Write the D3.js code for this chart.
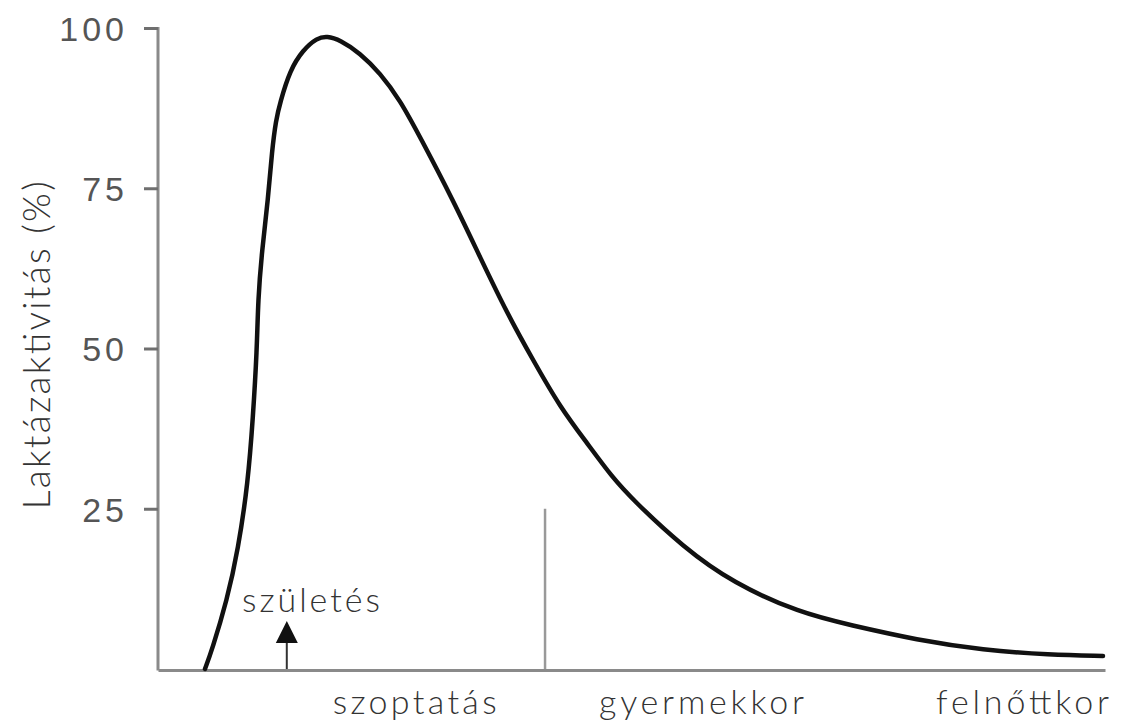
<!DOCTYPE html>
<html>
<head>
<meta charset="utf-8">
<script src="https://cdn.jsdelivr.net/npm/d3@7"></script>
<style>
  html, body { margin: 0; padding: 0; background: #fff; }
  svg { display: block; font-family: Lato, "DejaVu Sans", sans-serif; }
</style>
</head>
<body>
<div id="chart"></div>
<script>
// az eletkor tengely tetszoleges egysegben (0..100), a laktazaktivitas %-ban
var ageValues = [4.96, 5.70, 7.29, 8.45, 9.50, 10.03, 10.45, 10.56, 10.98, 11.62, 12.04, 12.46, 12.88,
                 13.94, 15.31, 16.79, 17.85, 19.22, 21.33, 23.44, 25.55, 27.67, 31.15, 34.0, 36.85,
                 39.6, 42.45, 45.3, 47.94, 50.16, 55.44, 60.72, 67.79, 73.07, 80.15, 87.12, 94.19, 99.79];
var activityValues = [0, 2.96, 10.76, 18.56, 29.02, 39.31, 49.77, 57.57, 65.37, 73.17, 80.97, 85.65, 88.3,
                      93.45, 96.57, 98.44, 98.75, 98.13, 96.1, 92.98, 88.77, 83.0, 73.17, 64.27, 55.54,
                      48.21, 40.87, 35.26, 29.95, 26.37, 19.03, 13.42, 8.74, 6.86, 4.52, 2.96, 2.18, 2.03];
var yTicks = [25, 50, 75, 100];
var periodLabels = ["szoptatás", "gyermekkor", "felnőttkor"];
var periodCenters = [27.1, 57.4, 91.3];
var periodWidths = [164, 205, 173];
var birthAge = 13.6;       // szuletes nyil
var weaningAge = 40.87;    // elvalasztas vonal
var weaningTop = 25;

var width = 1124;
var height = 726;

var svg = d3.select("#chart")
            .append("svg")
            .attr("width", width)
            .attr("height", height);

var x = d3.scaleLinear().domain([0, 100]).range([158, 1105]);
var y = d3.scaleLinear().domain([0, 100]).range([669, 28]);

// y tengely
var yAxis = svg.append("g")
               .attr("transform", "translate(158,0)")
               .call(d3.axisLeft(y).tickValues(yTicks).tickSize(14).tickSizeOuter(0).tickPadding(16));

yAxis.select(".domain")
     .attr("stroke", "#8a8a8a")
     .attr("stroke-width", 3)
     .attr("d", "M0," + (y(100) - 1) + "V" + (y(0) + 1.5));

yAxis.selectAll(".tick line")
     .attr("stroke", "#6f6f6f")
     .attr("stroke-width", 3);

yAxis.selectAll(".tick text")
     .attr("fill", "#555")
     .attr("font-size", 34)
     .attr("font-weight", 300)
     .attr("letter-spacing", 4)
     .attr("dy", "0.36em");

// x tengely (csak a vonal)
var xAxis = svg.append("g")
               .attr("transform", "translate(0," + (y(0) + 1) + ")")
               .call(d3.axisBottom(x).tickValues([]).tickSizeOuter(0));

xAxis.select(".domain")
     .attr("stroke", "#8a8a8a")
     .attr("stroke-width", 3);

// idoszakok feliratai
svg.append("g")
   .selectAll("text")
   .data(periodLabels)
   .enter()
   .append("text")
   .attr("x", (d, i) => x(periodCenters[i]))
   .attr("y", 714)
   .attr("text-anchor", "middle")
   .attr("fill", "#333")
   .attr("font-size", 34)
   .attr("font-weight", 300)
   .attr("textLength", (d, i) => periodWidths[i])
   .attr("lengthAdjust", "spacing")
   .text(d => d);

// y tengely cime
svg.append("text")
   .attr("transform", "translate(50," + y(50.5) + ") rotate(-90)")
   .attr("text-anchor", "middle")
   .attr("fill", "#333")
   .attr("font-size", 37)
   .attr("font-weight", 300)
   .attr("textLength", 328)
   .attr("lengthAdjust", "spacing")
   .text("Laktázaktivitás (%)");

// elvalasztas fuggoleges vonal
svg.append("line")
   .attr("x1", x(weaningAge))
   .attr("x2", x(weaningAge))
   .attr("y1", y(weaningTop))
   .attr("y2", y(0))
   .attr("stroke", "#999")
   .attr("stroke-width", 2.5);

// szuletes nyil
svg.append("line")
   .attr("x1", x(birthAge))
   .attr("x2", x(birthAge))
   .attr("y1", y(0))
   .attr("y2", 640)
   .attr("stroke", "#333")
   .attr("stroke-width", 2);

svg.append("path")
   .attr("d", d3.line()([[x(birthAge), 621], [x(birthAge) - 11, 643], [x(birthAge) + 11, 643]]) + "Z")
   .attr("fill", "#111");

svg.append("text")
   .attr("x", 242)
   .attr("y", 612)
   .attr("fill", "#333")
   .attr("font-size", 34)
   .attr("font-weight", 300)
   .attr("textLength", 138)
   .attr("lengthAdjust", "spacing")
   .text("születés");

// laktazaktivitas gorbe
var points = ageValues.map((a, i) => [a, activityValues[i]]);

svg.append("path")
   .datum(points)
   .attr("fill", "none")
   .attr("stroke", "#111")
   .attr("stroke-width", 4.5)
   .attr("stroke-linecap", "round")
   .attr("d", d3.line()
                .x(d => x(d[0]))
                .y(d => y(d[1]))
                .curve(d3.curveBasis));
</script>
</body>
</html>
